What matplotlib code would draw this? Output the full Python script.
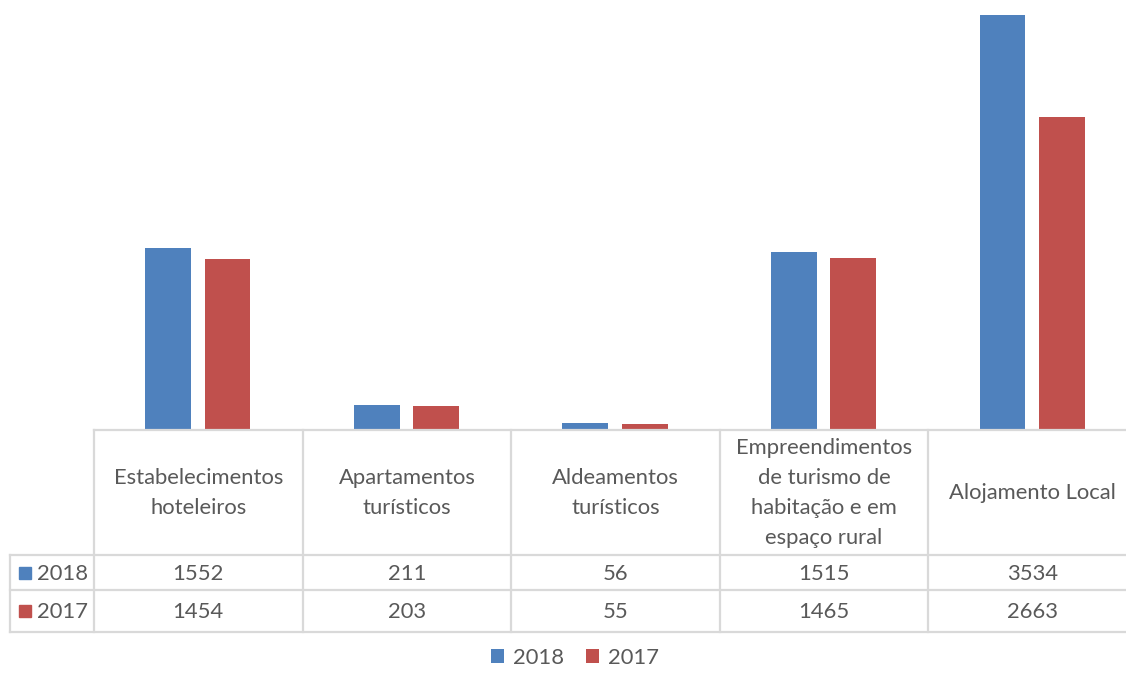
import matplotlib.pyplot as plt
from matplotlib.transforms import blended_transform_factory
from matplotlib.patches import Rectangle

categories = ["Estabelecimentos\nhoteleiros", "Apartamentos\nturísticos", "Aldeamentos\nturísticos",
              "Empreendimentos\nde turismo de\nhabitação e em\nespaço rural", "Alojamento Local"]
series_names = ["2018", "2017"]
values_2018 = [1552, 211, 56, 1515, 3534]
values_2017 = [1454, 203, 55, 1465, 2663]

blue = "#4F81BD"
red = "#C0504D"
grid = "#D9D9D9"
txt = "#595959"
plt.rcParams['font.family'] = ['Lato', 'DejaVu Sans']

W, H = 1126, 674
fig = plt.figure(figsize=(W / 100, H / 100), dpi=100)
col_w = 208.6
x0 = 94
ax = fig.add_axes([x0 / W, 1 - 430 / H, 5 * col_w / W, 430 / H])

xs = list(range(len(categories)))
bw = 0.22
b1 = ax.bar([x - 0.145 for x in xs], values_2018, bw, color=blue, label=series_names[0])
b2 = ax.bar([x + 0.14 for x in xs], values_2017, bw, color=red, label=series_names[1])
ax.set_xlim(-0.5, len(categories) - 0.5)
ax.set_ylim(0, 3534 * 430 / 415)
ax.axis('off')

# data table below the plot
tr = blended_transform_factory(ax.transData, fig.transFigure)
def fy(py):
    return 1 - py / H
left = -0.5 + (10 - x0) / col_w
right = len(categories) - 0.5
rows = [430, 555, 590, 632]
kw = dict(color=grid, lw=1.6, transform=tr, clip_on=False)
ax.plot([-0.5, right], [fy(rows[0])] * 2, **kw)
for r in rows[1:]:
    ax.plot([left, right], [fy(r)] * 2, **kw)
ax.plot([left, left], [fy(555), fy(632)], **kw)
for i in range(len(categories) + 1):
    ax.plot([i - 0.5] * 2, [fy(430), fy(632)], **kw)

fs = 15.8
for i, c in enumerate(categories):
    ax.text(i, fy(493), c, ha='center', va='center', fontsize=fs, color=txt,
            linespacing=1.62, transform=tr)
    ax.text(i, fy(574), str(values_2018[i]), ha='center', va='center', fontsize=fs, color=txt, transform=tr)
    ax.text(i, fy(612), str(values_2017[i]), ha='center', va='center', fontsize=fs, color=txt, transform=tr)

for name, col, yc in [(series_names[0], blue, 573), (series_names[1], red, 611)]:
    fig.add_artist(Rectangle((19 / W, fy(yc + 6)), 12 / W, 12 / H, color=col, transform=fig.transFigure))
    fig.text(37 / W, fy(yc + 1), name, ha='left', va='center', fontsize=fs, color=txt)

fig.legend(handles=[b1, b2], loc='center', bbox_to_anchor=(575 / W, fy(658)), ncol=2,
           frameon=False, fontsize=fs, labelcolor=txt, handlelength=0.6, handleheight=0.6,
           handletextpad=0.4, columnspacing=1.0, borderpad=0.1)

fig.savefig("out.png", dpi=100)
